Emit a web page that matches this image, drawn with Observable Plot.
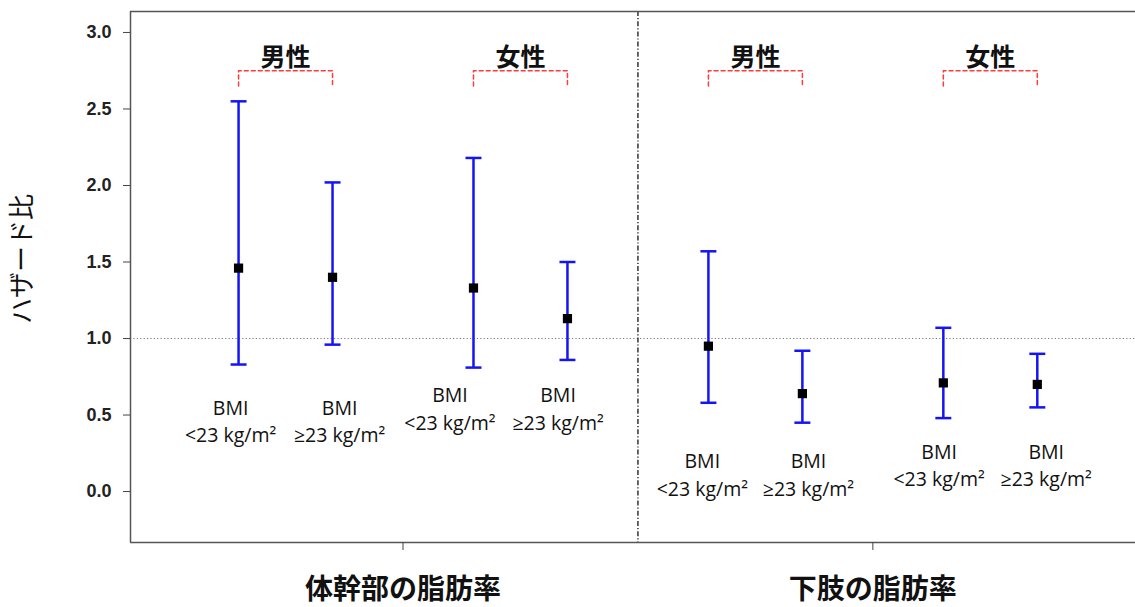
<!DOCTYPE html>
<html>
<head>
<meta charset="utf-8">
<script src="https://cdn.jsdelivr.net/npm/d3@7"></script>
<script src="https://cdn.jsdelivr.net/npm/@observablehq/plot@0.6"></script>
<style>
  html, body { margin: 0; padding: 0; background: #fff; }
</style>
</head>
<body>
<div id="chart"></div>
<script>
// Hazard ratios (point estimate with 95% CI) by body-fat site, sex and BMI stratum
const region = ["体幹部", "体幹部", "体幹部", "体幹部", "下肢", "下肢", "下肢", "下肢"];
const sex = ["男性", "男性", "女性", "女性", "男性", "男性", "女性", "女性"];
const bmiGroup = ["<23 kg/m²", "≥23 kg/m²", "<23 kg/m²", "≥23 kg/m²", "<23 kg/m²", "≥23 kg/m²", "<23 kg/m²", "≥23 kg/m²"];
const hazard = [1.46, 1.40, 1.33, 1.13, 0.95, 0.64, 0.71, 0.70];
const ciLow = [0.83, 0.96, 0.81, 0.86, 0.58, 0.45, 0.48, 0.55];
const ciHigh = [2.55, 2.02, 2.18, 1.50, 1.57, 0.92, 1.07, 0.90];

const groupNames = ["体幹部の脂肪率", "下肢の脂肪率"];
const yTicks = [0, 0.5, 1.0, 1.5, 2.0, 2.5, 3.0];

// Layout: horizontal slot of each estimate, pairs grouped by sex within each site
const slot = [0, 2, 5, 7, 10, 12, 15, 17];
const groupCenter = [3.5, 13.5];
const divider = 8.5;
const labelShift = [-0.17, 0.15, -0.5, -0.2, -0.13, 0.13, -0.09, 0.19];
const labelLevel = [0.47, 0.47, 0.55, 0.55, 0.12, 0.12, 0.18, 0.18];
const bracketTop = 2.75, bracketFoot = 2.65, sexLabelLevel = 2.835;
const capHalf = 0.17;

const rows = hazard.map((v, i) => ({
  x: slot[i], hr: v, lo: ciLow[i], hi: ciHigh[i],
  region: region[i], sex: sex[i],
  label: "BMI\n" + bmiGroup[i],
  lx: slot[i] + labelShift[i], ly: labelLevel[i]
}));

// Sex brackets: one per consecutive pair
const pairs = d3.range(0, rows.length, 2).map(i => ({
  key: rows[i].region + rows[i].sex, sex: rows[i].sex,
  a: rows[i].x, b: rows[i + 1].x
}));
const bracketPts = pairs.flatMap(p => [
  {key: p.key, x: p.a, y: bracketFoot},
  {key: p.key, x: p.a, y: bracketTop},
  {key: p.key, x: p.b, y: bracketTop},
  {key: p.key, x: p.b, y: bracketFoot}
]);

const xDomain = [-2.3, 19.09];
const yDomain = [-0.333, 3.137];
const blue = "#1414f5";

const chart = Plot.plot({
  width: 1135,
  height: 607,
  marginLeft: 130,
  marginRight: 0,
  marginTop: 11,
  marginBottom: 65,
  style: {fontFamily: "'Noto Sans CJK JP', 'Noto Sans', sans-serif", background: "#fff", color: "#111"},
  x: {domain: xDomain},
  y: {domain: yDomain},
  marks: [
    // reference line at HR = 1
    Plot.ruleY([1], {stroke: "#777", strokeDasharray: "1.2,2.2", strokeWidth: 1}),
    // divider between the two sites
    Plot.ruleX([divider], {stroke: "#333", strokeDasharray: "5,2,1.2,2", strokeWidth: 1.5}),
    // frame: left, top and bottom
    Plot.ruleX([xDomain[0]], {stroke: "#555", strokeWidth: 1.5}),
    Plot.ruleY([yDomain[0], yDomain[1]], {stroke: "#555", strokeWidth: 1.5}),
    // axes
    Plot.axisY({
      ticks: yTicks, tickFormat: d3.format(".1f"), tickSize: 7, tickPadding: 12,
      fontSize: 18, fontWeight: "bold", fontFamily: "'Liberation Sans', Arial, sans-serif",
      stroke: "#444", color: "#222", label: null
    }),
    Plot.axisX({
      ticks: groupCenter, tickFormat: d => groupNames[groupCenter.indexOf(d)],
      tickSize: 8, tickPadding: 29, fontSize: 28, fontWeight: "bold",
      stroke: "#444", color: "#111", label: null
    }),
    Plot.text(["ハザード比"], {
      frameAnchor: "left", textAnchor: "middle", dx: -108, dy: -18, rotate: -90, fontSize: 26, fill: "#111"
    }),
    // sex brackets
    Plot.line(bracketPts, {x: "x", y: "y", z: "key", stroke: "#ff3b3b", strokeWidth: 1.5, strokeDasharray: "4,3"}),
    Plot.text(pairs, {
      x: p => (p.a + p.b) / 2, y: sexLabelLevel, text: "sex",
      fontSize: 25, fontWeight: "bold", fill: "#111"
    }),
    // confidence intervals
    Plot.ruleX(rows, {x: "x", y1: "lo", y2: "hi", stroke: blue, strokeWidth: 2.5}),
    Plot.link(rows, {x1: d => d.x - capHalf, x2: d => d.x + capHalf, y1: "lo", y2: "lo", stroke: blue, strokeWidth: 2.5}),
    Plot.link(rows, {x1: d => d.x - capHalf, x2: d => d.x + capHalf, y1: "hi", y2: "hi", stroke: blue, strokeWidth: 2.5}),
    // point estimates
    Plot.dot(rows, {x: "x", y: "hr", symbol: "square", r: 5.2, fill: "#000", stroke: "none"}),
    // BMI stratum labels
    Plot.text(rows, {
      x: "lx", y: "ly", text: "label", lineAnchor: "middle", lineHeight: 1.4,
      fontSize: 19.5, fontFamily: "'Open Sans', sans-serif", fill: "#111"
    })
  ]
});

document.getElementById("chart").appendChild(chart);
</script>
</body>
</html>
